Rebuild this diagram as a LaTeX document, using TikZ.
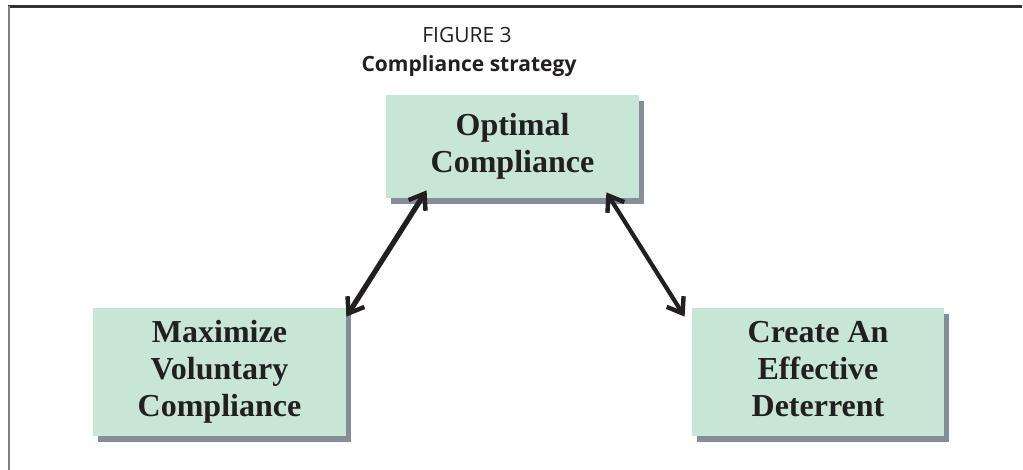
\documentclass[tikz,border=0pt]{standalone}
\usepackage{fontspec}
\setmainfont{Liberation Serif}
\newfontfamily\titlefont{Open Sans}
\usetikzlibrary{shadows,arrows.meta,calc}
\definecolor{boxfill}{HTML}{C8E6D6}
\definecolor{shadowgray}{HTML}{858E96}
\definecolor{inkdark}{HTML}{231F20}
\tikzset{
  px/.style={x=0.5pt,y=-0.5pt},
  stratbox/.style={draw=none, fill=boxfill, align=center, text=inkdark,
    font=\fontsize{16pt}{18.5pt}\selectfont\bfseries,
    inner sep=0pt,
    drop shadow={shadow xshift=2.6pt, shadow yshift=-3pt, fill=shadowgray, opacity=1}},
  link/.style={draw=inkdark, {Straight Barb[length=7pt,width=10pt,line width=2.2pt]}-{Straight Barb[length=7pt,width=10pt,line width=2.2pt]}},
  titletext/.style={anchor=base, font=\titlefont\fontsize{10.5pt}{12pt}\selectfont, text=inkdark}
}
\begin{document}
\begin{tikzpicture}[px]
\useasboundingbox (0,0) rectangle (1023,470);
% frame
\draw[draw=black!80, line width=1.1pt] (8,6.5) -- (1022,6.5);
\draw[draw=black!50, line width=1pt] (8.5,6) -- (8.5,470);
% title
\node[titletext] (fig) at (467,43) {FIGURE 3};
\node[titletext, font=\titlefont\bfseries\fontsize{10.5pt}{12pt}\selectfont] (cap) at (469,72) {Compliance strategy};
% boxes
\node[stratbox, minimum width=126.5pt, minimum height=51.5pt] (opt) at (512.5,146.5) {Optimal\\Compliance};
\node[stratbox, minimum width=126.5pt, minimum height=64pt] (vol) at (219.5,372) {Maximize\\Voluntary\\Compliance};
\node[stratbox, minimum width=126pt, minimum height=64pt] (det) at (818,372) {Create An\\Effective\\Deterrent\vphantom{p}};
% connectors
\draw[link, line width=2.6pt] ($(opt.south west)+(41,-8)$) -- ($(vol.north east)+(0,9)$);
\draw[link, line width=2.1pt] ($(opt.south east)+(-33,-6)$) -- ($(det.north west)+(-7,9)$);
\end{tikzpicture}
\end{document}
